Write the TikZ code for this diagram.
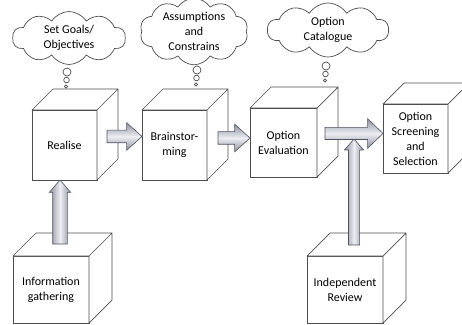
\documentclass[tikz,border=0pt]{standalone}
\usepackage{fontspec}
\setmainfont{Carlito}
\usetikzlibrary{shapes.symbols,shapes.arrows,positioning,calc}

\definecolor{linegray}{HTML}{4D4D4D}
\definecolor{arrowline}{HTML}{505460}
\definecolor{arrowdark}{HTML}{8C909C}
\definecolor{arrowlight}{HTML}{ECEEF3}

\newcommand{\lblfont}{\fontsize{12}{15}\selectfont}

\tikzset{
  box/.style={draw=linegray,fill=white,line width=0.7pt,outer sep=0pt,
    minimum width=65pt,minimum height=70pt,align=center,inner sep=1pt,font=\lblfont},
  lowbox/.style={box,minimum width=76pt,minimum height=67pt},
  thought/.style={cloud,cloud puffs=10,cloud puff arc=115,cloud ignores aspect,
    draw=linegray,fill=white,line width=0.7pt,align=center,inner sep=0pt,font=\lblfont},
  bubble/.style={draw=linegray,fill=white,line width=0.7pt},
  blockarrow/.style={single arrow,draw=arrowline,line width=0.6pt,outer sep=0pt,
    single arrow head extend=7.5pt,single arrow tip angle=84,inner sep=6pt},
  harrow/.style={blockarrow,top color=arrowdark,bottom color=arrowdark,middle color=arrowlight},
  varrow/.style={blockarrow,shape border rotate=90,
    left color=arrowdark,right color=arrowdark,middle color=arrowlight},
}

\begin{document}
\begin{tikzpicture}[x=1pt,y=1pt]
  \useasboundingbox (0,0) rectangle (462,324);

  % thought clouds
  \node[thought,minimum width=113pt,minimum height=53pt] (goals) at (69,286) {Set Goals/\\Objectives};
  \node[thought,minimum width=108pt,minimum height=63pt] (assume) at (194,292.5) {Assumptions\\and\\Constrains};
  \node[thought,minimum width=121pt,minimum height=54pt] (catalog) at (328,294) {Option\\Catalogue};
  \foreach \x/\y in {67/252,197/254,326/258}{
    \draw[bubble] (\x,\y) circle (4);
    \draw[bubble] (\x-0.5,\y-8) circle (2.8);
    \draw[bubble] (\x-1,\y-14.5) circle (1.6);
  }

  % steps
  \node[box] (real) at (64.5,179) {Realise};
  \node[box] (brain) at (174.5,179) {Brainstor-\\ming};
  \node[box,minimum width=67pt,minimum height=69pt] (eval) at (283.5,181.5) {Option\\Evaluation};
  \node[box,minimum height=69pt] (screen) at (415.5,185.5) {Option\\Screening\\and\\Selection};
  \node[lowbox] (info) at (51,34.5) {Information\\gathering};
  \node[lowbox] (review) at (345,34.5) {Independent\\Review};

  % top and side faces
  \foreach \n/\d in {real/21,brain/21,eval/21,screen/21,info/23,review/23}
    \filldraw[draw=linegray,fill=white,line width=0.7pt,line join=round]
      (\n.north west) -- ++(\d,\d) -- ([shift={(\d,\d)}]\n.north east)
      -- ([shift={(\d,\d)}]\n.south east) -- (\n.south east) -- (\n.north east) -- cycle
      (\n.north east) -- ++(\d,\d);

  % block arrows
  \node[harrow,minimum height=35pt,anchor=tip] (a1) at ([yshift=8.5pt]brain.west) {};
  \node[harrow,minimum height=32pt,anchor=tip] (a2) at ([yshift=4.5pt]eval.west) {};
  \node[varrow,inner sep=7pt,single arrow head extend=3.5pt,single arrow tip angle=82,
    minimum height=64pt,anchor=tip] (a4) at ([xshift=-4.5pt]real.south) {};
  \node[varrow,inner sep=5.25pt,single arrow head extend=4pt,single arrow tip angle=82,
    minimum height=106pt,anchor=tail] (a5) at ([xshift=9pt,yshift=11pt]review.north) {};
  \node[harrow,inner sep=5.75pt,single arrow head extend=8.75pt,single arrow tip angle=88,
    minimum height=58pt,anchor=tip] (a3) at ([yshift=5pt]screen.west) {};
\end{tikzpicture}
\end{document}
